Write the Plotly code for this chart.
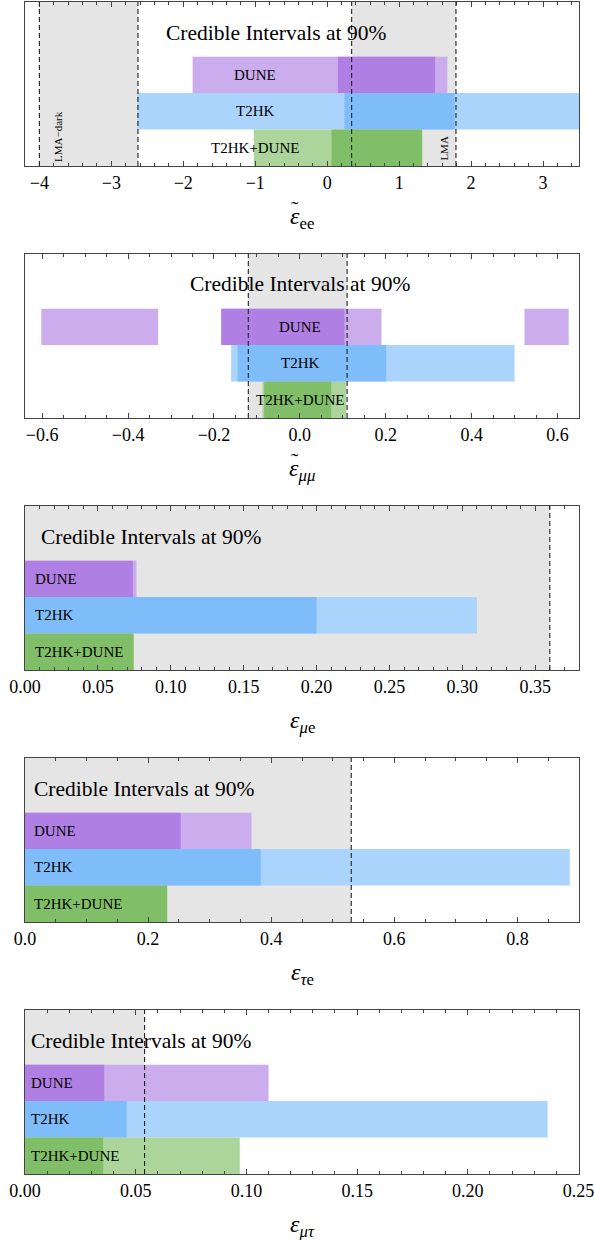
import plotly.graph_objects as go

# ---------------- data ----------------
experiments = ["DUNE", "T2HK", "T2HK+DUNE"]
rows = [3, 2, 1]

# panel 1: epsilon~_ee
ee_dune_light = [[-1.87, 1.67]]
ee_dune_dark = [[0.15, 1.50]]
ee_t2hk_light = [[-2.64, 3.50]]
ee_t2hk_dark = [[0.24, 1.77]]
ee_comb_light = [[-1.02, 1.32]]
ee_comb_dark = [[0.06, 1.32]]
ee_regions = [[-4.0, -2.63], [0.34, 1.79]]
ee_dashed = [-4.0, -2.63, 0.34, 1.79]

# panel 2: epsilon~_mumu
mm_dune_light = [[-0.602, -0.330], [-0.183, 0.190], [0.523, 0.626]]
mm_dune_dark = [[-0.183, 0.104]]
mm_t2hk_light = [[-0.160, 0.500]]
mm_t2hk_dark = [[-0.145, 0.201]]
mm_comb_light = [[-0.087, 0.107]]
mm_comb_dark = [[-0.083, 0.073]]
mm_regions = [[-0.12, 0.11]]
mm_dashed = [-0.12, 0.11]

# panel 3: epsilon_mue
me_dune_light = [[0.0, 0.0765]]
me_dune_dark = [[0.0, 0.074]]
me_t2hk_light = [[0.0, 0.310]]
me_t2hk_dark = [[0.0, 0.200]]
me_comb_light = [[0.0, 0.0745]]
me_comb_dark = [[0.0, 0.0745]]
me_regions = [[0.0, 0.36]]
me_dashed = [0.36]

# panel 4: epsilon_taue
te_dune_light = [[0.0, 0.368]]
te_dune_dark = [[0.0, 0.253]]
te_t2hk_light = [[0.0, 0.885]]
te_t2hk_dark = [[0.0, 0.383]]
te_comb_light = [[0.0, 0.231]]
te_comb_dark = [[0.0, 0.231]]
te_regions = [[0.0, 0.53]]
te_dashed = [0.53]

# panel 5: epsilon_mutau
mt_dune_light = [[0.0, 0.110]]
mt_dune_dark = [[0.0, 0.0358]]
mt_t2hk_light = [[0.0, 0.236]]
mt_t2hk_dark = [[0.0, 0.0459]]
mt_comb_light = [[0.0, 0.097]]
mt_comb_dark = [[0.0, 0.0353]]
mt_regions = [[0.0, 0.054]]
mt_dashed = [0.054]

x_ranges = [[-4.2, 3.5], [-0.64, 0.65], [0.0, 0.38], [0.0, 0.9], [0.0, 0.2502]]
major_dticks = [1, 0.2, 0.05, 0.2, 0.05]
minor_dticks = [0.2, 0.05, 0.01, 0.05, 0.01]
tick_formats = ["d", ".1f", ".2f", ".1f", ".2f"]
axis_symbols = ["ε", "ε", "ε", "ε", "ε"]
axis_has_tilde = [True, True, False, False, False]
axis_subscripts = ["ee", "<i>μμ</i>", "<i>μ</i>e", "<i>τ</i>e", "<i>μτ</i>"]

# ---------------- styling ----------------
FONT = "Liberation Serif, DejaVu Serif, Times New Roman, serif"
LIGHT = {"DUNE": "#CBACEC", "T2HK": "#AAD4FC", "T2HK+DUNE": "#ABD59B"}
DARK = {"DUNE": "#B07FE4", "T2HK": "#7FBDFA", "T2HK+DUNE": "#80BF67"}
GRAY = "#E5E5E5"
FRAME = "#444444"

panels = [
    dict(light=[ee_dune_light, ee_t2hk_light, ee_comb_light],
         dark=[ee_dune_dark, ee_t2hk_dark, ee_comb_dark],
         regions=ee_regions, dashed=ee_dashed),
    dict(light=[mm_dune_light, mm_t2hk_light, mm_comb_light],
         dark=[mm_dune_dark, mm_t2hk_dark, mm_comb_dark],
         regions=mm_regions, dashed=mm_dashed),
    dict(light=[me_dune_light, me_t2hk_light, me_comb_light],
         dark=[me_dune_dark, me_t2hk_dark, me_comb_dark],
         regions=me_regions, dashed=me_dashed),
    dict(light=[te_dune_light, te_t2hk_light, te_comb_light],
         dark=[te_dune_dark, te_t2hk_dark, te_comb_dark],
         regions=te_regions, dashed=te_dashed),
    dict(light=[mt_dune_light, mt_t2hk_light, mt_comb_light],
         dark=[mt_dune_dark, mt_t2hk_dark, mt_comb_dark],
         regions=mt_regions, dashed=mt_dashed),
]

W, H = 594, 1240
left_px, right_px = 25, 579
frame_h, period, top0 = 164, 252, 2
Y_RANGE = [0.5, 5.0]

fig = go.Figure()
shapes = []
annotations = []

for k, p in enumerate(panels):
    n = "" if k == 0 else str(k + 1)
    xa, ya = "x" + n, "y" + n
    top = top0 + period * k
    bot = top + frame_h
    dom_y = [1 - bot / H, 1 - top / H]

    for shade, colors in (("light", LIGHT), ("dark", DARK)):
        for exp, row, segs in zip(experiments, rows, p[shade]):
            fig.add_trace(go.Bar(
                orientation="h",
                y=[row] * len(segs),
                base=[s[0] for s in segs],
                x=[s[1] - s[0] for s in segs],
                width=1.0,
                marker=dict(color=colors[exp], line=dict(width=0)),
                xaxis=xa, yaxis=ya, showlegend=False, hoverinfo="skip",
            ))

    for r in p["regions"]:
        shapes.append(dict(type="rect", xref=xa, yref=ya + " domain",
                           x0=r[0], x1=r[1], y0=0, y1=1,
                           fillcolor=GRAY, line=dict(width=0), layer="below"))
    for d in p["dashed"]:
        shapes.append(dict(type="line", xref=xa, yref=ya + " domain",
                           x0=d, x1=d, y0=0, y1=1,
                           line=dict(color="#222222", width=1.1, dash="5px,3px"),
                           layer="above"))

    axis_kw = dict(
        domain=[left_px / W, right_px / W], range=x_ranges[k], automargin=False,
        showgrid=False, zeroline=False, showline=True, linecolor=FRAME,
        linewidth=1.4, mirror="ticks", ticks="inside", ticklen=5,
        tickwidth=1, tickcolor=FRAME, dtick=major_dticks[k], tick0=0,
        tickformat=tick_formats[k], ticklabeloverflow="allow",
        tickfont=dict(family=FONT, size=18, color="black"),
        minor=dict(ticks="inside", ticklen=3, tickwidth=1, tickcolor=FRAME,
                   dtick=minor_dticks[k], tick0=0, showgrid=False),
        anchor=ya, fixedrange=True,
    )
    fig.update_layout(**{"xaxis" + n: axis_kw})
    fig.update_layout(**{"yaxis" + n: dict(
        domain=dom_y, range=Y_RANGE, showgrid=False, zeroline=False, automargin=False,
        showline=True, linecolor=FRAME, linewidth=1.4, mirror=True,
        ticks="", showticklabels=False, anchor=xa, fixedrange=True)})

    # axis title: epsilon with subscript, optional tilde placed above epsilon
    annotations.append(dict(text="<i>" + axis_symbols[k] + "</i><sub>" + axis_subscripts[k] + "</sub>",
                            xref=xa + " domain", yref=ya + " domain",
                            x=0.5, y=-52 / frame_h, xanchor="center", yanchor="middle",
                            showarrow=False, font=dict(family=FONT, size=24, color="black")))
    if axis_has_tilde[k]:
        annotations.append(dict(text="˜", xref=xa + " domain", yref=ya + " domain",
                                x=0.5, xshift=-7, y=-42 / frame_h, xanchor="center", yanchor="middle",
                                showarrow=False, font=dict(family=FONT, size=22, color="black")))

# header texts
title = "Credible Intervals at 90%"
title_font = dict(family=FONT, size=21.5, color="black")
annotations.append(dict(text=title, xref="x", yref="y", x=-0.71, y=4.15,
                        xanchor="center", yanchor="middle", showarrow=False, font=title_font))
annotations.append(dict(text=title, xref="x2", yref="y2", x=0.0, y=4.19,
                        xanchor="center", yanchor="middle", showarrow=False, font=title_font))
for n, xs in (("3", 0.026), ("4", 0.012), ("5", 0.007)):
    annotations.append(dict(text=title, xref="x" + n + " domain", yref="y" + n, x=xs, y=4.16,
                            xanchor="left", yanchor="middle", showarrow=False, font=title_font))

# experiment labels
lab_font = dict(family=FONT, size=15, color="black")
for exp, row in zip(experiments, rows):
    annotations.append(dict(text=exp, xref="x", yref="y", x=-1.0, y=row,
                            xanchor="center", yanchor="middle", showarrow=False, font=lab_font))
    annotations.append(dict(text=exp, xref="x2", yref="y2", x=0.0, y=row,
                            xanchor="center", yanchor="middle", showarrow=False, font=lab_font))
    for n, xs in (("3", 0.0137), ("4", 0.012), ("5", 0.007)):
        annotations.append(dict(text=exp, xref="x" + n + " domain", yref="y" + n, x=xs, y=row,
                                xanchor="left", yanchor="middle", showarrow=False, font=lab_font))

# LMA labels
small = dict(family=FONT, size=11, color="black")
annotations.append(dict(text="LMA−dark", xref="x", yref="y", x=-3.74, y=1.30, textangle=-90,
                        xanchor="center", yanchor="middle", showarrow=False, font=small))
annotations.append(dict(text="LMA", xref="x", yref="y", x=1.63, y=0.99, textangle=-90,
                        xanchor="center", yanchor="middle", showarrow=False, font=small))

fig.update_layout(
    template="none",
    width=W, height=H, margin=dict(l=0, r=0, t=0, b=0, autoexpand=False),
    paper_bgcolor="white", plot_bgcolor="white", barmode="overlay",
    shapes=shapes, annotations=annotations, showlegend=False,
    font=dict(family=FONT),
)

fig.write_html("out.html")
